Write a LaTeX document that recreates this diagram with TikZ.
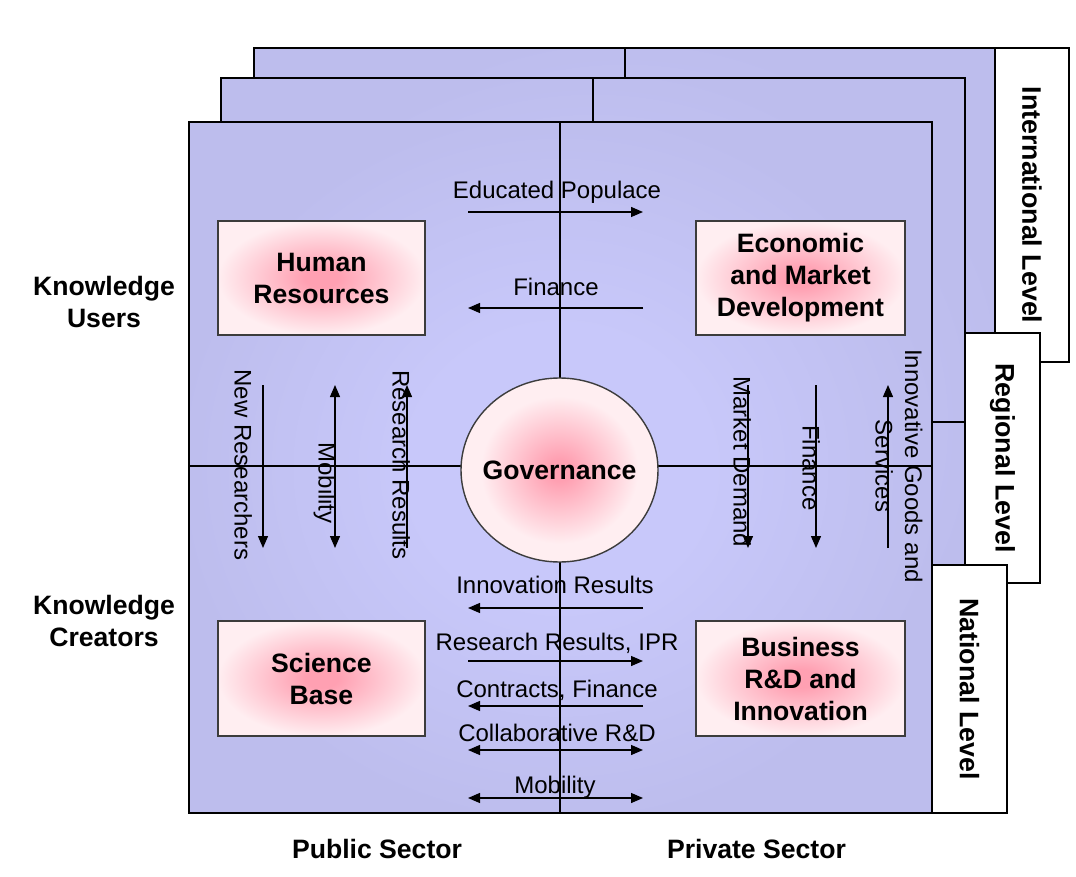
\documentclass[tikz,border=0pt]{standalone}
\usepackage{fontspec}
\setmainfont{Liberation Sans}
\usetikzlibrary{arrows.meta,shapes.geometric}
\definecolor{layerblue}{RGB}{189,189,237}
\definecolor{layerlight}{RGB}{200,200,250}
\definecolor{pinkc}{RGB}{255,160,178}
\definecolor{pinkl}{RGB}{255,238,241}
\definecolor{boxedge}{RGB}{60,60,60}
\pgfdeclareradialshading{boxshade}{\pgfpoint{0bp}{0bp}}{color(0bp)=(pinkc);color(4bp)=(pinkc);color(25bp)=(pinkl);color(50bp)=(pinkl)}
\pgfdeclareradialshading{govshade}{\pgfpoint{0bp}{0bp}}{color(0bp)=(pinkc);color(3bp)=(pinkc);color(20bp)=(pinkl);color(50bp)=(pinkl)}
\pgfdeclareradialshading{layershade}{\pgfpoint{0bp}{0bp}}{color(0bp)=(layerlight);color(10bp)=(layerlight);color(26bp)=(layerblue);color(50bp)=(layerblue)}
\tikzset{
  layer/.style={draw=black, line width=1.3pt, shading=layershade},
  midline/.style={draw=black, line width=1.2pt},
  lvlbox/.style={draw=black, line width=1.3pt, fill=white},
  lvltext/.style={rotate=-90, font=\fontsize{26.8}{32}\selectfont\bfseries, inner sep=0pt},
  comp/.style={draw=boxedge, line width=1.4pt, shading=boxshade, font=\fontsize{26.6}{32}\selectfont\bfseries, align=center, inner sep=0pt},
  govshape/.style={draw=boxedge, line width=1.4pt, shading=govshade, ellipse, inner sep=0pt},
  boldtxt/.style={font=\fontsize{26.6}{32}\selectfont\bfseries, align=center, inner sep=0pt},
  flowlbl/.style={font=\fontsize{24}{29}\selectfont, inner sep=0pt, anchor=base},
  vlbl/.style={flowlbl, rotate=-90},
  flow/.style={line width=1.3pt, -{Triangle[length=12pt,width=10pt]}},
  flowtwo/.style={line width=1.3pt, {Triangle[length=12pt,width=10pt]}-{Triangle[length=12pt,width=10pt]}},
  sidelbl/.style={boldtxt}
}
\begin{document}
\begin{tikzpicture}[x=1pt,y=-1pt]
\useasboundingbox[fill=white] (0,0) rectangle (1076,877);
% International layer
\path[layer] (254,48) rectangle (995,739);
\draw[midline] (625,48) -- (625,739);
\draw[midline] (254,392) -- (995,392);
\node[lvlbox, minimum width=74pt, minimum height=314pt, inner sep=0pt] (intbox) at (1032,205) {};
\node[lvltext] (inttxt) at (intbox.center) {International Level};
% Regional layer
\path[layer] (221,78) rectangle (965,769);
\draw[midline] (593,78) -- (593,769);
\draw[midline] (221,422) -- (965,422);
\node[lvlbox, minimum width=75pt, minimum height=250pt, inner sep=0pt] (regbox) at (1002.5,458) {};
\node[lvltext] (regtxt) at (regbox.center) {Regional Level};
% National layer
\path[layer] (189,122) rectangle (932,813);
\draw[midline] (560,122) -- (560,813);
\draw[midline] (189,466) -- (932,466);
\node[lvlbox, minimum width=75pt, minimum height=248pt, inner sep=0pt] (natbox) at (969.5,689) {};
\node[lvltext] (nattxt) at (natbox.center) {National Level};

% Components
\node[comp, minimum width=207pt, minimum height=114pt] (hr) at (321.5,278) {Human\\Resources};
\node[comp, minimum width=209pt, minimum height=114pt] (emd) at (800.5,278) {Economic\\and Market\\Development};
\node[comp, minimum width=207pt, minimum height=115pt] (sb) at (321.5,678.5) {Science\\Base};
\node[comp, minimum width=209pt, minimum height=115pt] (brd) at (800.5,678.5) {Business\\R\&D and\\Innovation};
\node[govshape, minimum width=197pt, minimum height=184pt] (gov) at (559.5,470) {};
\node[boldtxt] (govtxt) at (gov.center) {Governance};

% Coordinates for flows
\coordinate (epL) at (468,212); \coordinate (epR) at (643,212);
\coordinate (fiL) at (468,308); \coordinate (fiR) at (643,308);
\coordinate (irL) at (468,608); \coordinate (irR) at (643,608);
\coordinate (rrL) at (468,661); \coordinate (rrR) at (643,661);
\coordinate (cfL) at (468,706); \coordinate (cfR) at (643,706);
\coordinate (crL) at (468,750); \coordinate (crR) at (643,750);
\coordinate (moL) at (468,798); \coordinate (moR) at (643,798);
\coordinate (nrT) at (263,385); \coordinate (nrB) at (263,548);
\coordinate (mvT) at (335,385); \coordinate (mvB) at (335,548);
\coordinate (rvT) at (407,385); \coordinate (rvB) at (407,548);
\coordinate (mdT) at (748,385); \coordinate (mdB) at (748,548);
\coordinate (fvT) at (816,385); \coordinate (fvB) at (816,548);
\coordinate (igT) at (888,385); \coordinate (igB) at (888,548);

% Horizontal flows
\draw[flow] (epL) -- (epR);
\draw[flow] (fiR) -- (fiL);
\draw[flow] (irR) -- (irL);
\draw[flow] (rrL) -- (rrR);
\draw[flow] (cfR) -- (cfL);
\draw[flowtwo] (crL) -- (crR);
\draw[flowtwo] (moL) -- (moR);
% Vertical flows
\draw[flow] (nrT) -- (nrB);
\draw[flowtwo] (mvT) -- (mvB);
\draw[flow] (rvB) -- (rvT);
\draw[flow] (mdT) -- (mdB);
\draw[flow] (fvT) -- (fvB);
\draw[flow] (igB) -- (igT);

% Flow labels
\node[flowlbl] (lep) at (557,199) {Educated Populace};
\node[flowlbl] (lfi) at (556,296) {Finance};
\node[flowlbl] (lir) at (555,593) {Innovation Results};
\node[flowlbl] (lrr) at (557,650) {Research Results, IPR};
\node[flowlbl] (lcf) at (557,697) {Contracts, Finance};
\node[flowlbl] (lcr) at (557,741) {Collaborative R\&D};
\node[flowlbl] (lmo) at (555,793) {Mobility};
\node[vlbl] (lnr) at (234.5,465) {New Researchers};
\node[vlbl] (lmv) at (318.5,483) {Mobility};
\node[vlbl] (lrv) at (392.5,465) {Research Results};
\node[vlbl] (lmd) at (733.5,462) {Market Demand};
\node[vlbl] (lfv) at (802.5,468) {Finance};
\node[vlbl] (lig1) at (905,466) {Innovative Goods and};
\node[vlbl] (lig2) at (875.5,466) {Services};

% Side labels
\node[sidelbl] (ku) at (104,302) {Knowledge\\Users};
\node[sidelbl] (kc) at (104,621) {Knowledge\\Creators};
\node[sidelbl, anchor=base] (pub) at (377,858) {Public Sector};
\node[sidelbl, anchor=base] (pri) at (756.5,858) {Private Sector};
\end{tikzpicture}
\end{document}
